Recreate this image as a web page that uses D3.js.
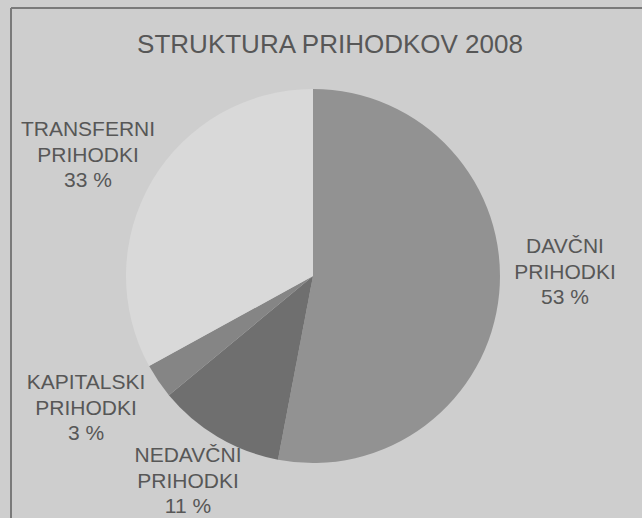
<!DOCTYPE html>
<html>
<head>
<meta charset="utf-8">
<script src="https://cdn.jsdelivr.net/npm/d3@7"></script>
<style>
  body { margin: 0; background: #cecece; }
  text { font-family: "Liberation Sans", Arial, sans-serif; fill: #575757; }
</style>
</head>
<body>
<svg id="chart"></svg>
<script>
const TITLE = 'STRUKTURA PRIHODKOV 2008';
const categories = ['DAVČNI', 'NEDAVČNI', 'KAPITALSKI', 'TRANSFERNI'];
const values = [53, 11, 3, 33];
const colors = ['#929292', '#6f6f6f', '#858585', '#d9d9d9'];

// label anchor spots (outside the pie), one per slice
const labelPos = [[565, 253], [188, 462], [86, 389], [88, 136]];

const width = 642, height = 518;
const cx = 313, cy = 276, radius = 187;

const svg = d3.select('#chart')
  .attr('width', width)
  .attr('height', height);

// paper background + frame lines
svg.append('rect')
  .attr('width', width)
  .attr('height', height)
  .attr('fill', '#cecece');
svg.append('line')
  .attr('x1', 11).attr('x2', width).attr('y1', 8).attr('y2', 8)
  .attr('stroke', '#7a7a7a').attr('stroke-width', 2);
svg.append('line')
  .attr('x1', 11).attr('x2', 11).attr('y1', 8).attr('y2', height)
  .attr('stroke', '#7a7a7a').attr('stroke-width', 2);

svg.append('text')
  .attr('x', 330)
  .attr('y', 53)
  .attr('text-anchor', 'middle')
  .style('font-size', '26px')
  .text(TITLE);

const pie = d3.pie().sort(null).value(d => d);
const arc = d3.arc().innerRadius(0).outerRadius(radius);

const g = svg.append('g')
  .attr('transform', `translate(${cx}, ${cy})`);

g.selectAll('path.slice')
  .data(pie(values))
  .enter()
  .append('path')
  .attr('class', 'slice')
  .attr('d', arc)
  .attr('fill', (_, i) => colors[i]);

// labels: name, PRIHODKI, percent
const labels = svg.selectAll('text.label')
  .data(categories)
  .enter()
  .append('text')
  .attr('class', 'label')
  .attr('text-anchor', 'middle')
  .attr('transform', (_, i) => `translate(${labelPos[i][0]}, ${labelPos[i][1]})`)
  .style('font-size', '21px');

labels.each(function(d, i) {
  const t = d3.select(this);
  [d, 'PRIHODKI', `${values[i]} %`].forEach((line, j) => {
    t.append('tspan')
      .attr('x', 0)
      .attr('y', j * 25.7)
      .text(line);
  });
});
</script>
</body>
</html>
